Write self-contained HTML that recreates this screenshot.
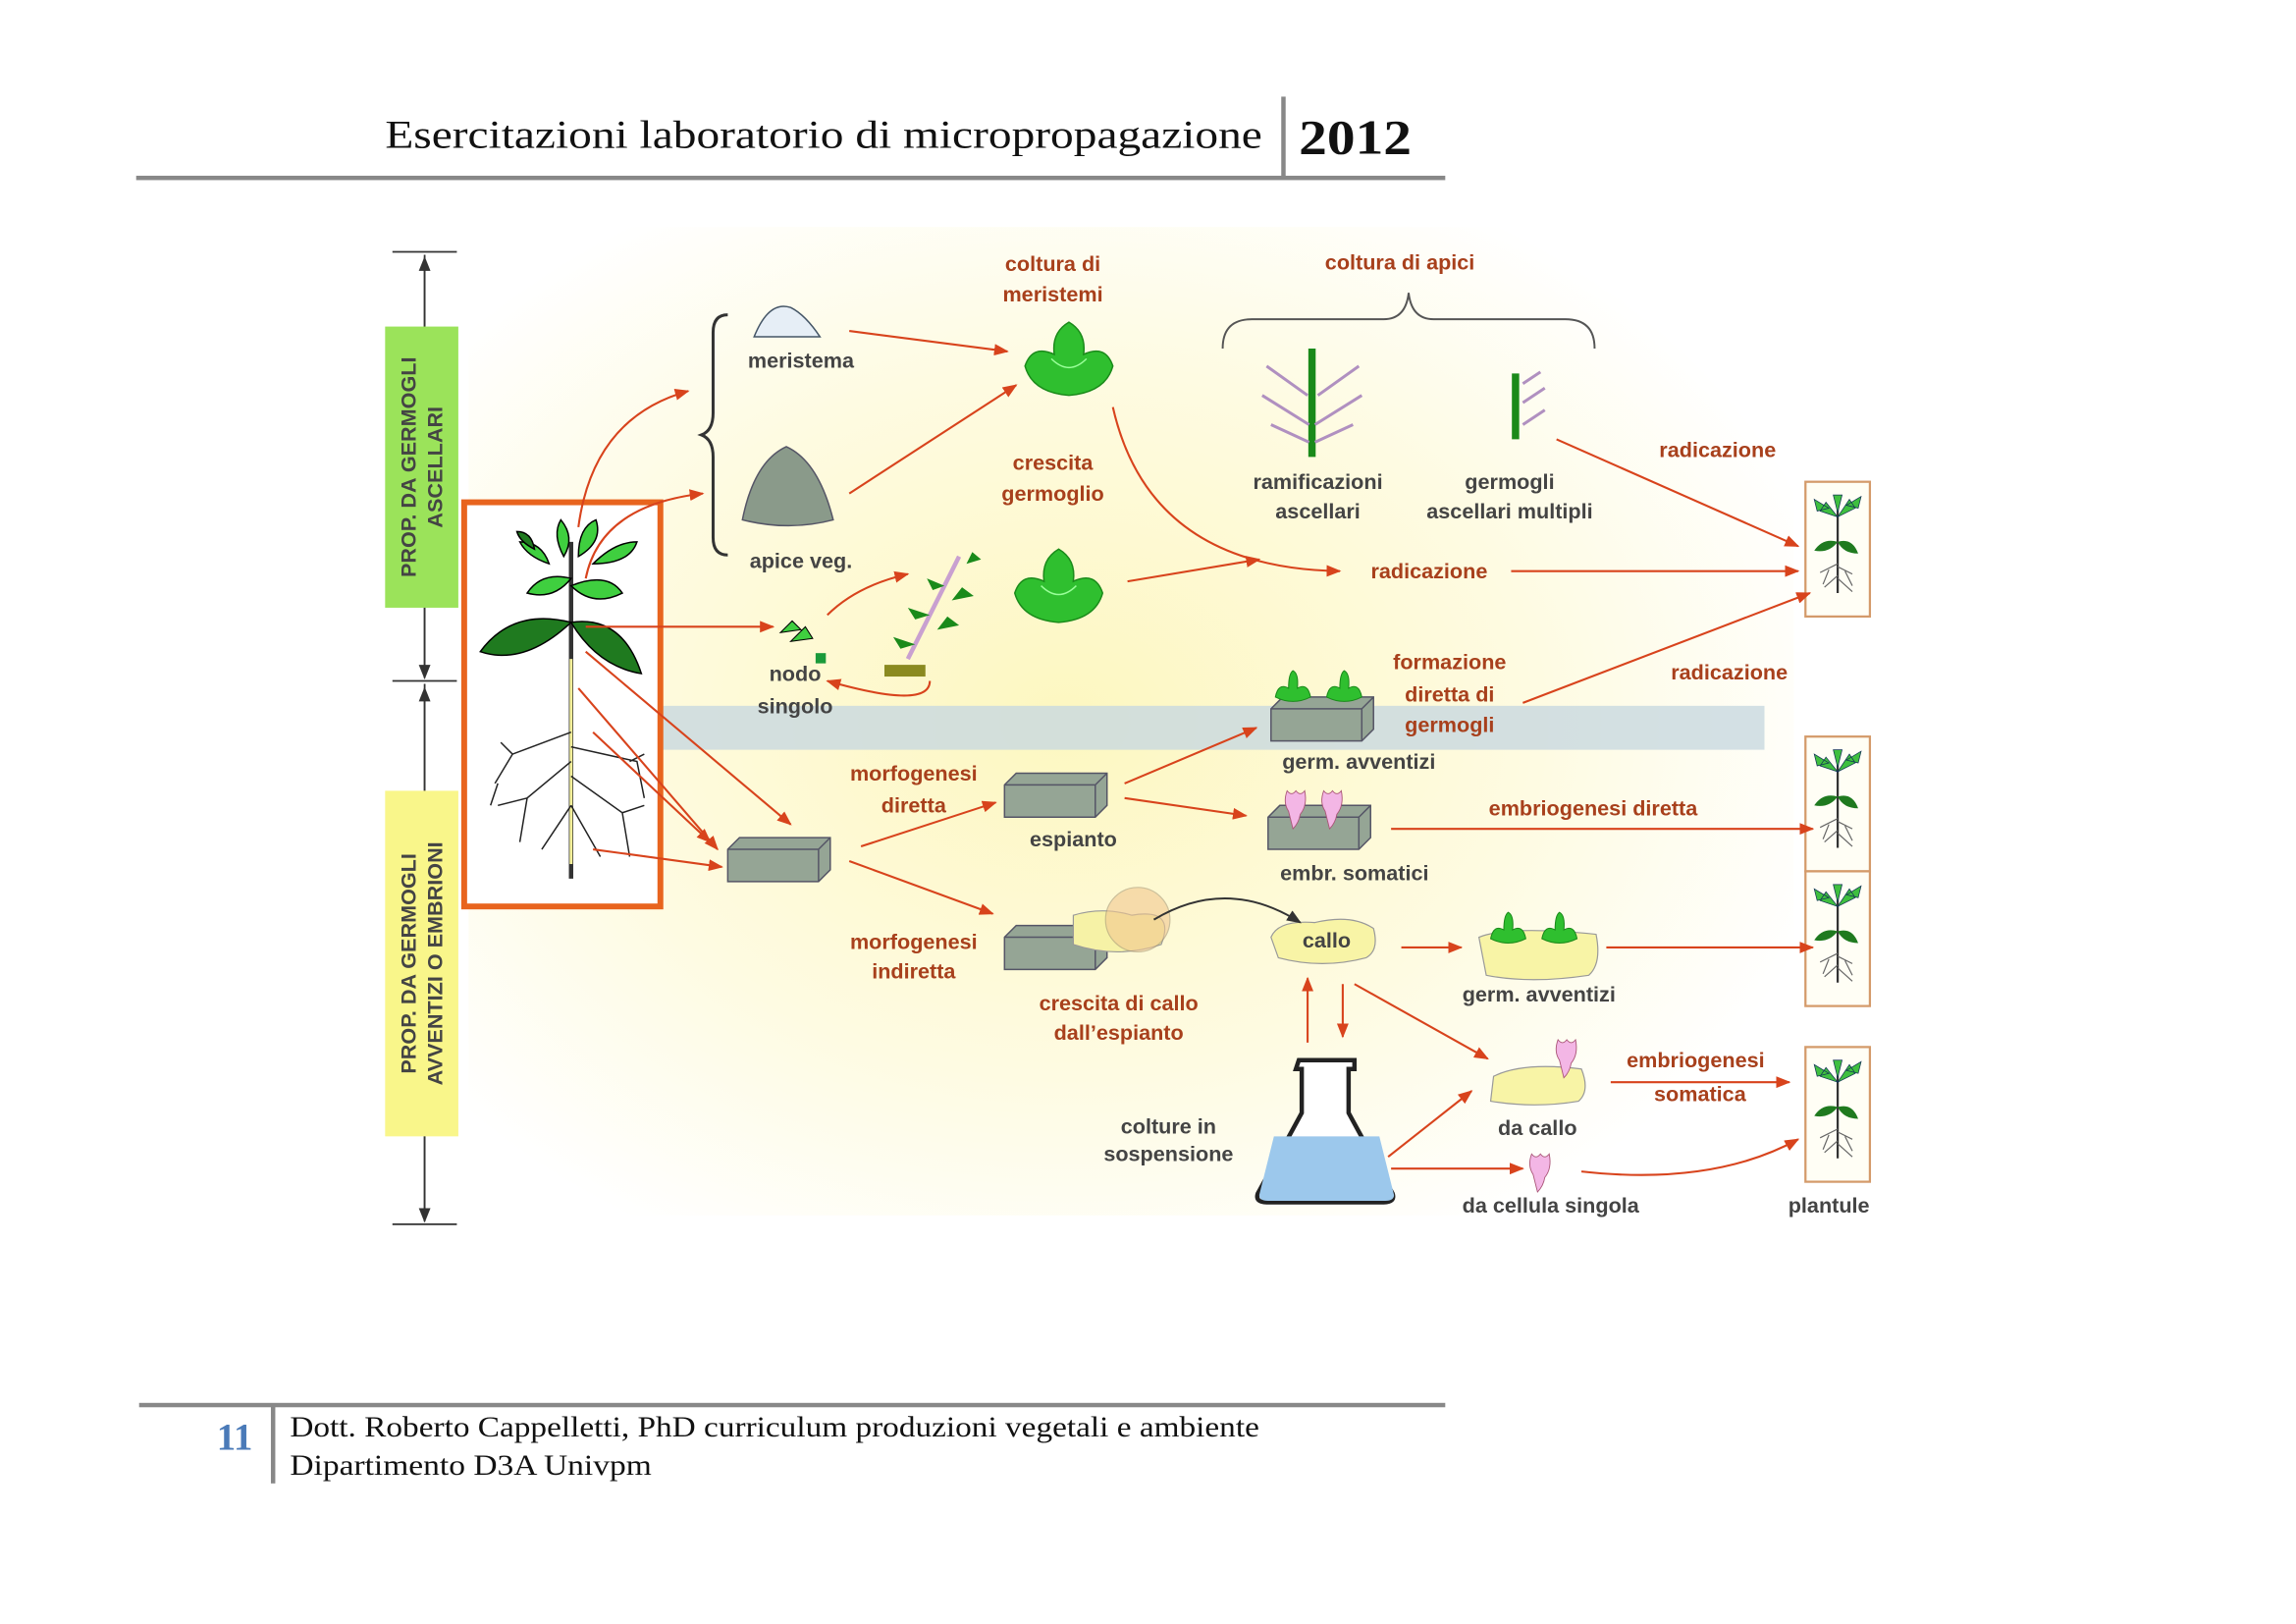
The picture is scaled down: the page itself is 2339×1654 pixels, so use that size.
<!DOCTYPE html>
<html><head><meta charset="utf-8"><style>
html,body{margin:0;padding:0;background:#fff;}
svg{display:block;}
</style></head><body>
<svg width="2339" height="1654" viewBox="0 0 1568 1109" preserveAspectRatio="none" xmlns="http://www.w3.org/2000/svg">
<defs>
<radialGradient id="bg" cx="0.45" cy="0.5" r="0.6">
<stop offset="0" stop-color="#fdf7c0"/><stop offset="0.6" stop-color="#fefbe2"/><stop offset="1" stop-color="#ffffff"/>
</radialGradient>
<marker id="a" markerWidth="10" markerHeight="8" refX="9" refY="4" orient="auto" markerUnits="userSpaceOnUse"><path d="M0,0 L10,4 L0,8 z" fill="#d8431c"/></marker>
<marker id="k" markerWidth="10" markerHeight="8" refX="9" refY="4" orient="auto" markerUnits="userSpaceOnUse"><path d="M0,0 L10,4 L0,8 z" fill="#333"/></marker>
<g id="plantule">
<line x1="0" y1="-20" x2="0" y2="40" stroke="#333" stroke-width="1.5"/>
<path d="M0,5 q-10,-3 -16,6 q10,2 16,-6z M0,5 q10,-3 14,8 q-10,0 -14,-8z" fill="#1f7a1f"/>
<path d="M0,-12 l-8,-10 l-4,6z M0,-12 l8,-12 l4,6z M0,-15 l-3,-12 l6,0z M-6,-18 l-10,-6 l2,8z M6,-20 l10,-6 l-2,8z" fill="#3fbf3f" stroke="#135" stroke-width="0.5"/>
<path d="M0,20 l-12,6 M0,22 l10,5 M0,28 l-9,8 M0,30 l10,9 M-6,24 l-4,10 M5,25 l5,10" stroke="#666" stroke-width="0.8" fill="none"/>
</g>
<g id="lettuce">
<path d="M-30,5 q5,-15 20,-8 q-2,-15 10,-22 q12,7 10,22 q15,-7 20,8 q-5,18 -30,20 q-25,-2 -30,-20z" fill="#2fbf2f" stroke="#1a8a1a" stroke-width="1"/>
<path d="M-12,0 q12,12 24,0" stroke="#9f9" fill="none"/>
</g>
<g id="small">
<path d="M-12,4 q2,-10 9,-6 q0,-10 3,-12 q4,2 3,12 q7,-4 9,6 q-12,6 -24,0z" fill="#2fbf2f" stroke="#1a8a1a" stroke-width="0.7"/>
</g>
<g id="embryo"><path d="M-6,-12 q3,4 6,0 q3,4 6,0 q2,10 -3,16 q-1,6 -5,10 q-2,-8 -3,-12 q-4,-6 -1,-14z" fill="#f3b6e5" stroke="#a57" stroke-width="0.6"/></g>
<g id="box"><path d="M0,8 l8,-8 h62 v22 l-8,8 h-62z" fill="#95a595" stroke="#556" stroke-width="1"/><path d="M0,8 h62 l8,-8 M62,8 v22" stroke="#556" fill="none"/></g>
</defs>

<!-- header -->
<text x="263" y="101" font-family="Liberation Serif, serif" font-size="27" fill="#111" textLength="599" lengthAdjust="spacingAndGlyphs">Esercitazioni laboratorio di micropropagazione</text>
<rect x="875" y="66" width="3" height="55" fill="#888"/>
<text x="887" y="105" font-family="Liberation Serif, serif" font-size="33" font-weight="bold" fill="#111" textLength="77" lengthAdjust="spacingAndGlyphs">2012</text>
<rect x="93" y="120" width="894" height="3" fill="#888"/>

<!-- background -->
<rect x="320" y="155" width="905" height="675" fill="url(#bg)"/>
<rect x="450" y="482" width="755" height="30" fill="#c8d8e0" opacity="0.8"/>

<!-- left axis -->
<g stroke="#333" stroke-width="1.2">
<line x1="268" y1="172" x2="312" y2="172"/><line x1="268" y1="465" x2="312" y2="465"/><line x1="268" y1="836" x2="312" y2="836"/>
<line x1="290" y1="174" x2="290" y2="463" marker-end="url(#k)"/><line x1="290" y1="463" x2="290" y2="176" marker-end="url(#k)"/>
<line x1="290" y1="467" x2="290" y2="834" marker-end="url(#k)"/><line x1="290" y1="834" x2="290" y2="470" marker-end="url(#k)"/>
</g>
<rect x="263" y="223" width="50" height="192" fill="#9be35a"/>
<rect x="263" y="540" width="50" height="236" fill="#f9f68a"/>
<g font-family="Liberation Sans, sans-serif" font-weight="bold" font-size="14.5" fill="#444">
<text transform="translate(284,319) rotate(-90)" text-anchor="middle">PROP. DA GERMOGLI</text>
<text transform="translate(302,319) rotate(-90)" text-anchor="middle">ASCELLARI</text>
<text transform="translate(284,658) rotate(-90)" text-anchor="middle">PROP. DA GERMOGLI</text>
<text transform="translate(302,658) rotate(-90)" text-anchor="middle">AVVENTIZI O EMBRIONI</text>
</g>

<!-- plant box -->
<rect x="317" y="343" width="134" height="276" fill="#fff" stroke="#e8641e" stroke-width="4"/>
<line x1="390" y1="370" x2="390" y2="600" stroke="#333" stroke-width="3"/>
<line x1="390" y1="450" x2="390" y2="590" stroke="#f4ef9a" stroke-width="2"/>
<path d="M390,425 q-40,-10 -62,20 q30,10 62,-20z M390,425 q35,-5 48,35 q-30,-5 -48,-35z" fill="#1f7a1f" stroke="#000" stroke-width="1"/>
<g fill="#3fcf3f" stroke="#000" stroke-width="1">
<path d="M390,395 q-20,-5 -30,10 q18,5 30,-10z"/>
<path d="M390,400 q25,-10 35,5 q-20,10 -35,-5z"/>
<path d="M385,380 q-8,-15 -2,-25 q10,12 2,25z"/>
<path d="M395,380 q0,-20 12,-25 q5,15 -12,25z"/>
<path d="M375,385 q-15,-5 -20,-15 q15,0 20,15z"/>
<path d="M405,385 q15,-15 30,-15 q-5,15 -30,15z"/>
<path d="M365,375 q-10,-5 -12,-12 q10,0 12,12z" fill="#1f7a1f"/>
</g>
<g stroke="#222" stroke-width="1" fill="none">
<path d="M390,500 l-40,15 l-12,20 M390,510 l45,10 l5,25 M390,520 l-30,25 l-5,30 M390,530 l35,25 l5,30 M390,550 l-20,30 M390,550 l20,35 M360,545 l-20,5 M425,555 l15,-5 M350,515 l-8,-8 M340,535 l-5,15 M430,520 l10,-5"/>
</g>

<!-- brace -->
<path d="M497,215 q-10,0 -10,12 v55 q0,12 -8,15 q8,3 8,15 v55 q0,12 10,12" stroke="#333" stroke-width="2" fill="none"/>
<path d="M515,230 q10,-25 25,-20 q10,5 20,20z" fill="#e6eef6" stroke="#456" stroke-width="1"/>
<path d="M507,355 q8,-40 30,-50 q22,10 32,50 q-30,8 -62,0z" fill="#8a9a8a" stroke="#556" stroke-width="1"/>
<path d="M835,238 q0,-20 20,-20 h90 q15,0 17,-18 q2,18 17,18 h90 q20,0 20,20" stroke="#555" stroke-width="1.3" fill="none"/>

<!-- images -->
<use href="#lettuce" x="730" y="245"/>
<use href="#lettuce" x="723" y="400"/>
<use href="#box" x="497" y="572"/>
<use href="#box" x="686" y="528"/>
<use href="#box" x="686" y="632"/>
<use href="#box" x="868" y="476"/>
<use href="#small" x="883" y="472"/><use href="#small" x="918" y="472"/>
<use href="#box" x="866" y="550"/>
<use href="#embryo" x="885" y="552"/><use href="#embryo" x="910" y="552"/>
<path d="M620,450 l35,-70" stroke="#c9a0d0" stroke-width="3"/>
<path d="M625,440 l-15,-5 l5,8z M635,420 l-15,-5 l5,8z M645,400 l-12,-5 l4,8z M640,430 l15,-3 l-8,-6z M650,410 l15,-3 l-8,-6z M660,385 l10,-3 l-6,-5z" fill="#1a8a1a"/>
<rect x="604" y="454" width="28" height="8" fill="#8a8a20"/>
<path d="M533,432 l8,-8 l6,6z M540,438 l10,-10 l5,8z" fill="#3fcf3f" stroke="#000" stroke-width="0.7"/><rect x="557" y="446" width="7" height="7" fill="#1a9a3a"/>
<line x1="896" y1="238" x2="896" y2="312" stroke="#1a8a1a" stroke-width="5"/>
<path d="M865,250 l28,20 M928,250 l-28,20 M862,270 l32,20 M930,270 l-32,20 M868,290 l26,12 M924,290 l-26,12" stroke="#b090c0" stroke-width="2"/>
<line x1="1035" y1="255" x2="1035" y2="300" stroke="#1a8a1a" stroke-width="5"/>
<path d="M1040,290 l15,-10 M1040,275 l15,-10 M1040,262 l12,-8" stroke="#b090c0" stroke-width="2"/>
<path d="M733,625 q20,-6 40,0 q30,-5 20,20 q-30,10 -60,0z" fill="#f6f2a6" stroke="#999" stroke-width="0.8"/>
<circle cx="777" cy="628" r="22" fill="#f2c890" opacity="0.6" stroke="#a97" stroke-width="0.8"/>
<path d="M868,640 q5,-12 30,-10 q25,-6 40,4 q4,15 -5,20 q-30,8 -60,0z" fill="#f8f4a6" stroke="#999" stroke-width="0.8"/>
<path d="M1010,640 q20,-8 80,-2 q4,20 -5,28 q-40,6 -70,0z" fill="#f8f4a6" stroke="#999" stroke-width="0.8"/>
<use href="#small" x="1030" y="637"/><use href="#small" x="1065" y="637"/>
<path d="M1020,735 q20,-10 60,-5 q6,15 -2,22 q-30,5 -60,0z" fill="#f8f4a6" stroke="#999" stroke-width="0.8"/>
<use href="#embryo" x="1070" y="722"/>
<use href="#embryo" x="1052" y="800"/>
<!-- flask -->
<path d="M887,724 h38 v6 h-4 v30 l30,55 q2,6 -6,6 h-80 q-8,0 -6,-6 l30,-55 v-30 h-4z" fill="#fff" stroke="#222" stroke-width="3"/>
<path d="M870,776 h72 l10,40 q0,4 -6,4 h-80 q-6,0 -6,-4z" fill="#9cc8ec"/>
<!-- plantules -->
<g fill="#fffef5" stroke="#d49a6a" stroke-width="1.5">
<rect x="1233" y="329" width="44" height="92"/>
<rect x="1233" y="503" width="44" height="92"/>
<rect x="1233" y="595" width="44" height="92"/>
<rect x="1233" y="715" width="44" height="92"/>
</g>
<use href="#plantule" x="1255" y="365"/><use href="#plantule" x="1255" y="539"/><use href="#plantule" x="1255" y="631"/><use href="#plantule" x="1255" y="751"/>

<!-- arrows -->
<g stroke="#d8431c" stroke-width="1.4" fill="none" marker-end="url(#a)">
<path d="M395,360 q10,-75 75,-93"/>
<path d="M400,395 q10,-50 80,-58"/>
<path d="M400,428 h128"/>
<path d="M400,445 l140,118"/>
<path d="M395,470 l95,110"/>
<path d="M405,500 l80,75"/>
<path d="M405,580 l88,12"/>
<line x1="580" y1="226" x2="688" y2="240"/>
<line x1="580" y1="337" x2="694" y2="263"/>
<path d="M565,420 q20,-20 55,-28"/>
<path d="M635,465 q0,20 -70,0"/>
<path d="M760,278 q25,110 155,112"/>
<line x1="770" y1="397" x2="860" y2="382"/>
<line x1="1032" y1="390" x2="1228" y2="390"/>
<line x1="1063" y1="300" x2="1228" y2="373"/>
<line x1="1040" y1="480" x2="1236" y2="405"/>
<line x1="588" y1="578" x2="680" y2="548"/>
<line x1="580" y1="588" x2="678" y2="624"/>
<line x1="768" y1="535" x2="858" y2="497"/>
<line x1="768" y1="545" x2="851" y2="557"/>
<line x1="950" y1="566" x2="1238" y2="566"/>
<line x1="957" y1="647" x2="998" y2="647"/>
<line x1="1097" y1="647" x2="1238" y2="647"/>
<line x1="893" y1="712" x2="893" y2="668"/>
<line x1="917" y1="672" x2="917" y2="708"/>
<line x1="925" y1="672" x2="1016" y2="723"/>
<line x1="948" y1="790" x2="1005" y2="745"/>
<line x1="950" y1="798" x2="1040" y2="798"/>
<path d="M1080,800 q90,10 148,-22"/>
<line x1="1100" y1="739" x2="1222" y2="739"/>
</g>
<path d="M788,628 q50,-30 100,2" stroke="#333" stroke-width="1.3" fill="none" marker-end="url(#k)"/>

<!-- labels -->
<g font-family="Liberation Sans, sans-serif" font-weight="bold" font-size="14.5" text-anchor="middle">
<g fill="#444">
<text x="547" y="251">meristema</text>
<text x="547" y="388">apice veg.</text>
<text x="543" y="465">nodo</text>
<text x="543" y="487">singolo</text>
<text x="900" y="334">ramificazioni</text>
<text x="900" y="354">ascellari</text>
<text x="1031" y="334">germogli</text>
<text x="1031" y="354">ascellari multipli</text>
<text x="928" y="525">germ. avventizi</text>
<text x="733" y="578">espianto</text>
<text x="925" y="601">embr. somatici</text>
<text x="906" y="647">callo</text>
<text x="1051" y="684">germ. avventizi</text>
<text x="1050" y="775">da callo</text>
<text x="798" y="774">colture in</text>
<text x="798" y="793">sospensione</text>
<text x="1059" y="828">da cellula singola</text>
<text x="1249" y="828">plantule</text>
</g>
<g fill="#a8401c">
<text x="719" y="185">coltura di</text>
<text x="719" y="206">meristemi</text>
<text x="956" y="184">coltura di apici</text>
<text x="719" y="321">crescita</text>
<text x="719" y="342">germoglio</text>
<text x="976" y="395">radicazione</text>
<text x="1173" y="312">radicazione</text>
<text x="1181" y="464">radicazione</text>
<text x="990" y="457">formazione</text>
<text x="990" y="479">diretta di</text>
<text x="990" y="500">germogli</text>
<text x="624" y="533">morfogenesi</text>
<text x="624" y="555">diretta</text>
<text x="1088" y="557">embriogenesi diretta</text>
<text x="624" y="648">morfogenesi</text>
<text x="624" y="668">indiretta</text>
<text x="764" y="690">crescita di callo</text>
<text x="764" y="710">dall’espianto</text>
<text x="1158" y="729">embriogenesi</text>
<text x="1161" y="752">somatica</text>
</g>
</g>

<!-- footer -->
<rect x="95" y="958" width="892" height="3" fill="#888"/>
<text x="148" y="990" font-family="Liberation Serif, serif" font-size="26" font-weight="bold" fill="#4a7ab8">11</text>
<rect x="185" y="960" width="3" height="53" fill="#888"/>
<text x="198" y="981" font-family="Liberation Serif, serif" font-size="20" fill="#111" textLength="662" lengthAdjust="spacingAndGlyphs">Dott. Roberto Cappelletti, PhD curriculum produzioni vegetali e ambiente</text>
<text x="198" y="1007" font-family="Liberation Serif, serif" font-size="20" fill="#111" textLength="247" lengthAdjust="spacingAndGlyphs">Dipartimento D3A Univpm</text>
</svg>
</body></html>
